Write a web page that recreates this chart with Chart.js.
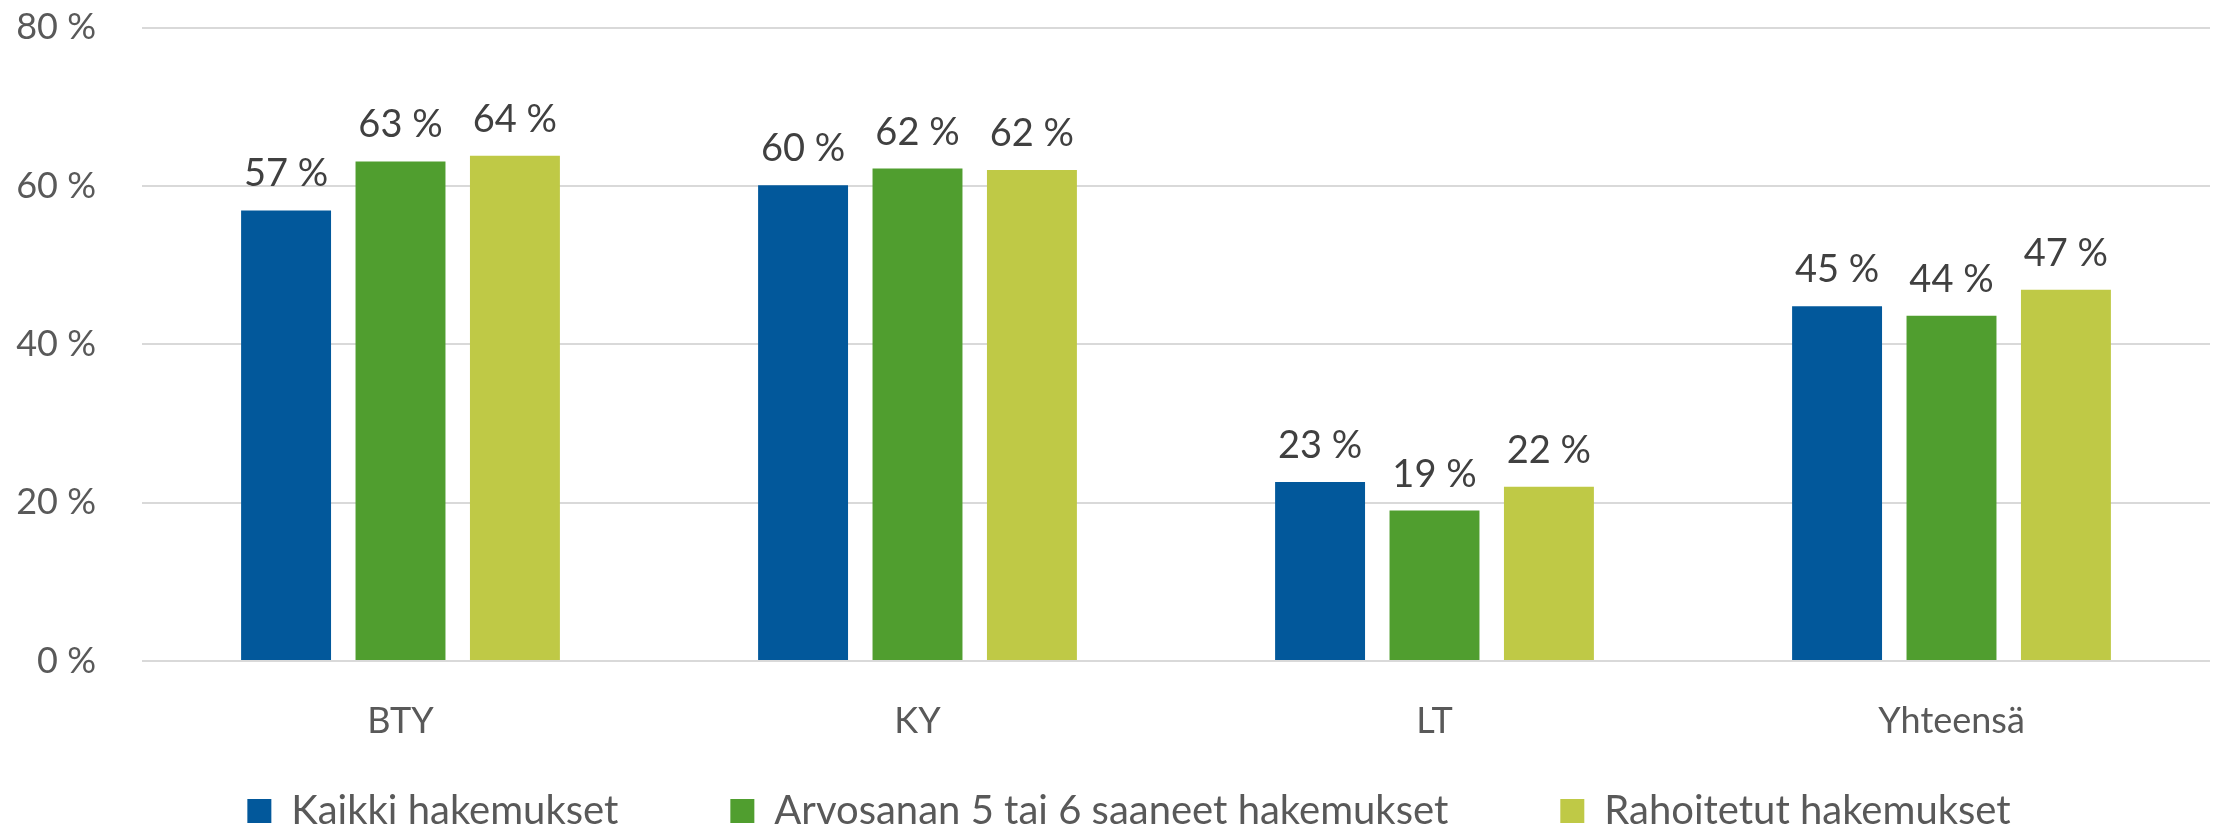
<!DOCTYPE html>
<html>
<head>
<meta charset="utf-8">
<script src="https://cdn.jsdelivr.net/npm/chart.js@4"></script>
<style>
  html, body { margin: 0; padding: 0; background: #fff; }
  #wrap { width: 2216px; height: 828px; }
</style>
</head>
<body>
<div id="wrap"><canvas id="myChart" width="2216" height="828"></canvas></div>
<script>
var categories = ['BTY', 'KY', 'LT', 'Yhteensä'];
var seriesNames = ['Kaikki hakemukset', 'Arvosanan 5 tai 6 saaneet hakemukset', 'Rahoitetut hakemukset'];
var kaikki = [56.9, 60.1, 22.6, 44.8];
var arvosana = [63.1, 62.2, 19.0, 43.6];
var rahoitetut = [63.8, 62.0, 22.0, 46.9];
var yTicks = [0, 20, 40, 60, 80];

var FONT = 'Lato';
var TEXT = '#595959';

// value labels above bars
var barLabels = {
    id: 'barLabels',
    afterDatasetsDraw: function(chart) {
        var ctx = chart.ctx;
        ctx.save();
        ctx.font = '38px ' + FONT;
        ctx.fillStyle = '#404040';
        ctx.textAlign = 'center';
        ctx.textBaseline = 'alphabetic';
        chart.data.datasets.forEach(function(ds, i) {
            chart.getDatasetMeta(i).data.forEach(function(bar, j) {
                ctx.fillText(Math.round(ds.data[j]) + ' %', bar.x, bar.y - 24);
            });
        });
        ctx.restore();
    }
};

// nudge the legend row a little to the right, like the original
var legendShift = {
    id: 'legendShift',
    afterLayout: function(chart) {
        if (chart.legend) chart.legend.left += 48;
    }
};

var ctx = document.getElementById('myChart').getContext('2d');
var myChart = new Chart(ctx, {
    type: 'bar',
    data: {
        labels: categories,
        datasets: [
            { label: seriesNames[0], data: kaikki, backgroundColor: '#02589B' },
            { label: seriesNames[1], data: arvosana, backgroundColor: '#509E2F' },
            { label: seriesNames[2], data: rahoitetut, backgroundColor: '#BFC946' }
        ]
    },
    options: {
        responsive: false,
        animation: false,
        devicePixelRatio: 1,
        categoryPercentage: 0.664,
        barPercentage: 0.786,
        layout: { padding: { top: -3, right: 6, bottom: -13, left: 0 } },
        scales: {
            x: {
                grid: { display: false, drawTicks: false },
                border: { display: false },
                // mirror keeps the labels from being clipped to the thin axis box
                ticks: { color: TEXT, font: { family: FONT, size: 36 }, mirror: true, padding: -82 },
                afterFit: function(s) { s.height = 18; }
            },
            y: {
                min: 0,
                max: 80,
                afterBuildTicks: function(s) { s.ticks = yTicks.map(function(v) { return { value: v }; }); },
                grid: { color: '#D9D9D9', lineWidth: 2, tickLength: 40, tickColor: 'rgba(0,0,0,0)' },
                border: { display: false },
                ticks: {
                    color: TEXT,
                    font: { family: FONT, size: 36 },
                    padding: 6,
                    callback: function(v) { return v + ' %'; }
                },
                afterFit: function(s) { s.width = 142; }
            }
        },
        plugins: {
            legend: {
                position: 'bottom',
                labels: {
                    color: TEXT,
                    font: { family: FONT, size: 40 },
                    boxWidth: 24,
                    boxHeight: 24,
                    padding: 112
                }
            },
            tooltip: { enabled: false }
        }
    },
    plugins: [barLabels, legendShift]
});
</script>
</body>
</html>
